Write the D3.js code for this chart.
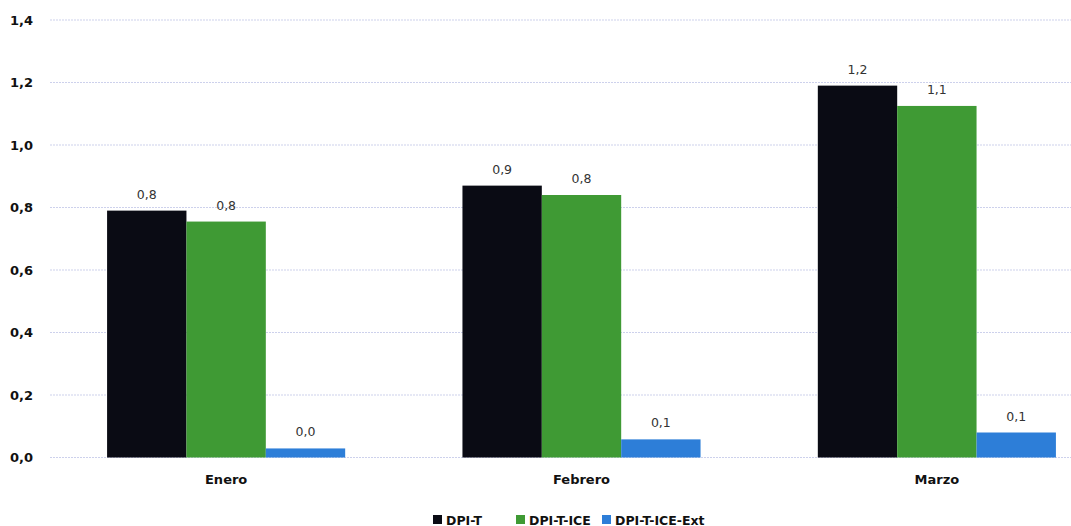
<!DOCTYPE html>
<html><head><meta charset="utf-8">
<script src="https://cdn.jsdelivr.net/npm/d3@7"></script>
<style>body{margin:0;background:#fff;}svg{display:block;font-family:"DejaVu Sans",Verdana,sans-serif;}</style>
</head><body>
<svg id="c" width="1071" height="526"></svg>
<script>
const categories = ["Enero", "Febrero", "Marzo"];
const seriesNames = ["DPI-T", "DPI-T-ICE", "DPI-T-ICE-Ext"];
const dpiT = [0.79, 0.87, 1.19];
const dpiTICE = [0.755, 0.84, 1.125];
const dpiTICEExt = [0.029, 0.058, 0.08];
const yTicks = [0, 0.2, 0.4, 0.6, 0.8, 1.0, 1.2, 1.4];
const colors = ["#0a0b14", "#3f9a34", "#2d7ed8"];

const seriesValues = [dpiT, dpiTICE, dpiTICEExt];
const svg = d3.select("#c");
const y = d3.scaleLinear().domain([0, 1.4]).range([457.5, 20]);
const x0 = d3.scaleBand().domain(categories).range([52, 1111]).paddingInner(0.33).paddingOuter(0.155);
const x1 = d3.scaleBand().domain(seriesNames).range([0, x0.bandwidth()]);
const fmt = v => d3.format(".1f")(v).replace(".", ",");

// gridlines
svg.append("g").selectAll("line").data(yTicks).join("line")
  .attr("x1", 50).attr("x2", 1071)
  .attr("y1", d => y(d)).attr("y2", d => y(d))
  .attr("stroke", "#cdd1ec").attr("stroke-width", 1.2).attr("stroke-dasharray", "2,1");

// y axis labels
const yAxis = d3.axisLeft(y).tickValues(yTicks).tickSize(0).tickPadding(0).tickFormat(fmt);
const ya = svg.append("g").attr("transform", "translate(33,0)").call(yAxis);
ya.select(".domain").remove();
ya.selectAll("text").attr("font-size", 13).attr("font-weight", "bold").attr("fill", "#111")
  .attr("font-family", "DejaVu Sans, sans-serif");

// bars
const groups = svg.append("g").selectAll("g").data(categories).join("g")
  .attr("transform", d => `translate(${x0(d)},0)`);
groups.each(function(cat, ci) {
  const g = d3.select(this);
  seriesNames.forEach((s, si) => {
    const v = seriesValues[si][ci];
    g.append("rect").attr("x", x1(s)).attr("width", x1.bandwidth())
      .attr("y", y(v)).attr("height", y(0) - y(v)).attr("fill", colors[si]);
    g.append("text").attr("x", x1(s) + x1.bandwidth() / 2).attr("y", y(v) - 12)
      .attr("text-anchor", "middle").attr("font-size", 12.5).attr("fill", "#333")
      .text(fmt(v));
  });
});

// x labels
const xAxis = d3.axisBottom(x0).tickSize(0).tickPadding(0);
const xa = svg.append("g").attr("transform", "translate(0,475)").call(xAxis);
xa.select(".domain").remove();
xa.selectAll("text").attr("font-size", 13).attr("font-weight", "bold").attr("fill", "#111")
  .attr("font-family", "DejaVu Sans, sans-serif");

// legend
const legendX = [433, 516, 602];
const lg = svg.append("g");
seriesNames.forEach((s, i) => {
  lg.append("rect").attr("x", legendX[i]).attr("y", 515).attr("width", 9).attr("height", 9).attr("fill", colors[i]);
  lg.append("text").attr("x", legendX[i] + 13).attr("y", 524.5).attr("font-size", 12.5)
    .attr("font-weight", "bold").attr("fill", "#111").text(s);
});
</script>
</body></html>
